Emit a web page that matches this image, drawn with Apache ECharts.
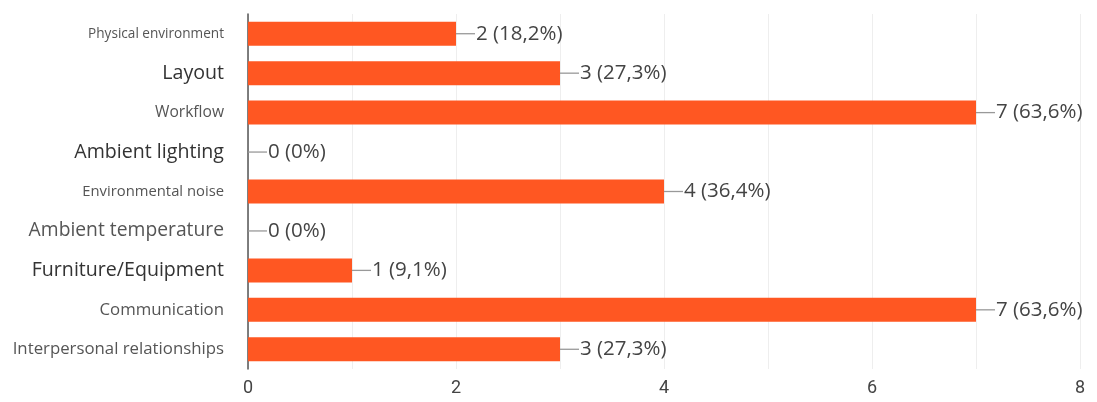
<!DOCTYPE html>
<html><head><meta charset="utf-8">
<script src="https://cdn.jsdelivr.net/npm/echarts@6/dist/echarts.min.js"></script>
<style>html,body{margin:0;padding:0;background:#fff}#c{width:1097px;height:402px}</style>
</head><body><div id="c"></div>
<script>
const categories = ["Physical environment","Layout","Workflow","Ambient lighting","Environmental noise","Ambient temperature","Furniture/Equipment","Communication","Interpersonal relationships"];
const counts = [2,3,7,0,4,0,1,7,3];
const percents = ["18,2%","27,3%","63,6%","0%","36,4%","0%","9,1%","63,6%","27,3%"];
const xTicks = [0,2,4,6,8];
const labelStyleKeys = ["s11","l17","s13","l17","s12","l16","l17","s15","s15"];

const chart = echarts.init(document.getElementById('c'));
const F = '"Open Sans", Roboto, sans-serif';
const rich = {
  s11:{fontSize:13.6,color:'#555',fontFamily:F}, s12:{fontSize:14.8,color:'#555',fontFamily:F}, s13:{fontSize:15.6,color:'#555',fontFamily:F},
  s15:{fontSize:16.8,color:'#555',fontFamily:F}, l16:{fontSize:19.3,color:'#555',fontFamily:F}, l17:{fontSize:19.6,color:'#333',fontFamily:F}
};
chart.setOption({
  animation:false,
  textStyle:{fontFamily:F},
  grid:{left:248,right:17,top:14,bottom:33,containLabel:false},
  xAxis:{type:'value',min:0,max:8,interval:1,
    axisLine:{show:false},axisTick:{show:false},
    splitLine:{show:true,lineStyle:{color:'#eeeeee',width:1}},
    axisLabel:{fontSize:18,color:'#444',margin:10,fontFamily:'Roboto, sans-serif',formatter:v=>xTicks.includes(v)?String(v):''}},
  yAxis:{type:'category',data:categories,inverse:true,
    axisLine:{show:true,lineStyle:{color:'#555',width:1.5}},axisTick:{show:false},
    axisLabel:{margin:24,rich:rich,formatter:(v,i)=>'{'+labelStyleKeys[i]+'|'+v+'}'}},
  series:[{type:'bar',data:counts,barWidth:24,
    itemStyle:{color:'#FF5722'},
    label:{show:true,position:'right',distance:0,
      formatter:p=>'{ln|}{t|'+counts[p.dataIndex]+' ('+percents[p.dataIndex]+')}',
      rich:{ln:{width:19,height:1.3,backgroundColor:'#999'},t:{fontSize:20.5,color:'#444',fontFamily:F,padding:[0,0,0,1]}}}
  }]
});
</script></body></html>
